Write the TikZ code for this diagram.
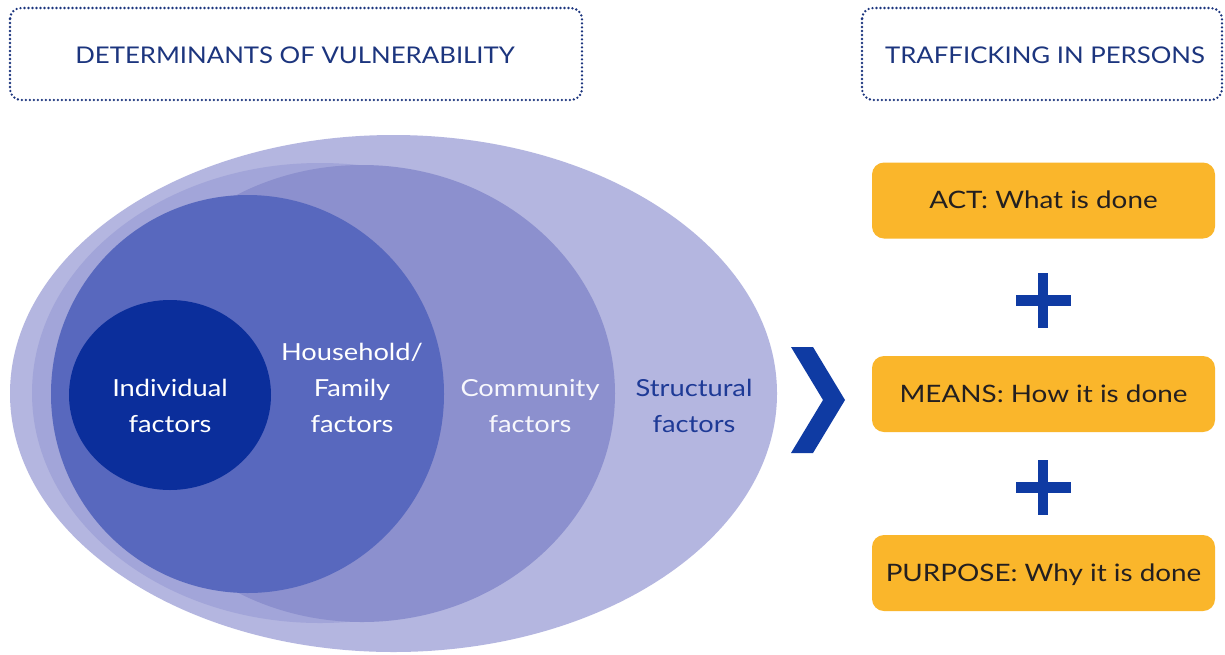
\documentclass[tikz,border=0pt]{standalone}
\usepackage{fontspec}
\setmainfont{Lato}
\newfontfamily\headfont[FakeStretch=1.12]{Lato}
\newfontfamily\factorfont[FakeStretch=1.16]{Lato}
\newfontfamily\boxfont[FakeStretch=1.16]{Lato}
\definecolor{outerc}{HTML}{B4B6E0}
\definecolor{sliverc}{HTML}{A2A5D9}
\definecolor{commc}{HTML}{8C90CE}
\definecolor{housec}{HTML}{5868BE}
\definecolor{indivc}{HTML}{0B2E9B}
\definecolor{headc}{HTML}{1C357E}
\definecolor{navyc}{HTML}{0F3BA3}
\definecolor{orangec}{HTML}{FAB62B}
\definecolor{boxtext}{HTML}{231F20}
\definecolor{structc}{HTML}{1E3A96}
\begin{document}
\begin{tikzpicture}[x=1pt,y=-1pt,
  dotbox/.style={draw=headc, line width=2.6pt, dash pattern=on 0pt off 4pt, line cap=round, rounded corners=11pt},
  headtext/.style={text=headc, font=\headfont\fontsize{23}{28}\selectfont, anchor=base, inner sep=0pt},
  factor/.style={font=\factorfont\fontsize{23.5}{36}\selectfont, align=center, anchor=base, inner sep=0pt},
  obox/.style={fill=orangec, rounded corners=12pt, minimum width=343pt, minimum height=76pt, text=boxtext, font=\boxfont\fontsize{24}{28}\selectfont, inner sep=0pt, text height=16pt, text depth=0pt},
  plusbar/.style={fill=navyc}
]
\useasboundingbox (0,0) rectangle (1225,654);
\fill[white] (0,0) rectangle (1225,654);

% header boxes
\draw[dotbox] (10,8) rectangle (582,100);
\draw[dotbox] (862,8) rectangle (1222,100);
\node[headtext] (hleft) at (295,63) {DETERMINANTS OF VULNERABILITY};
\node[headtext] (hright) at (1045,63) {TRAFFICKING IN PERSONS};

% nested ellipses
\fill[outerc] (393.5,393.5) ellipse [x radius=383.5, y radius=258.5];
\fill[sliverc] (320,393) ellipse [x radius=288, y radius=230];
\fill[commc] (362,393.5) ellipse [x radius=253, y radius=228.5];
\fill[housec] (247.5,394) ellipse [x radius=196.5, y radius=199];
\fill[indivc] (170,395) ellipse [x radius=101, y radius=95];

% factor labels (base = last line)
\node[factor, text=white] (indiv) at (170,432) {Individual\\factors};
\node[factor, text=white] (house) at (352,432) {Household/\\Family\\factors};
\node[factor, text=white!93!commc] (comm) at (530,432) {Community\\factors};
\node[factor, text=structc] (struct) at (694,432) {Structural\\factors};

% chevron
\fill[navyc] (791,347) -- (813,347) -- (845,400) -- (813,453) -- (791,453) -- (823,400) -- cycle;

% orange boxes
\node[obox] (act) at (1043.5,200.5) {ACT: What is done};
\node[obox] (means) at (1043.5,394) {MEANS: How it is done};
\node[obox] (purpose) at (1043.5,573) {PURPOSE: Why it is done};

% plus signs
\coordinate (p1) at (1043,300);
\coordinate (p2) at (1043,487);
\foreach \p in {p1,p2}{
  \fill[plusbar] (\p) +(-27.5,-5.5) rectangle +(27.5,5.5);
  \fill[plusbar] (\p) +(-5,-27.5) rectangle +(5,27.5);
}
\end{tikzpicture}
\end{document}
